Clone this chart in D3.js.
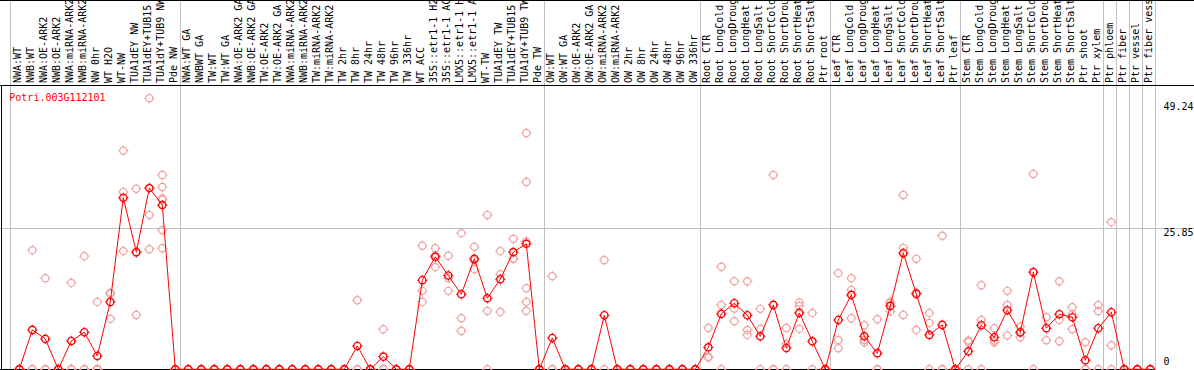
<!DOCTYPE html>
<html><head><meta charset="utf-8">
<script src="https://cdn.jsdelivr.net/npm/d3@7"></script>
<style>
body{margin:0;background:#fff}
svg{display:block}
text{font-family:"DejaVu Sans Mono",monospace;font-size:10px}
</style>
</head><body>
<svg id="c" width="1194" height="370"></svg>
<script>
const title = "Potri.003G112101";
const categories = [
 "NWA:WT","NWB:WT","NWA:OE-ARK2","NWB:OE-ARK2","NWA:miRNA-ARK2","NWB:miRNA-ARK2","NW 0hr","WT H2O","WT-NW","TUA1dEY NW","TUA1dEY+TUB15 NW","TUA1dY+TUB9 NW","Pde NW",
 "NWA:WT GA","NWBWT GA","TW:WT","TW:WT GA","NWA:OE-ARK2 GA","NWB:OE-ARK2 GA","TW:OE-ARK2","TW:OE-ARK2 GA","NWA:miRNA-ARK2","NWB:miRNA-ARK2","TW:miRNA-ARK2","TW:miRNA-ARK2","TW 2hr","TW 8hr","TW 24hr","TW 48hr","TW 96hr","TW 336hr","WT ACC","35S::etr1-1 H2O","35S::etr1-1 ACC","LMX5::etr1-1 H2O","LMX5::etr1-1 ACC","WT-TW","TUA1dEY TW","TUA1dEY+TUB15 TW","TUA1dY+TUB9 TW","Pde TW",
 "OW:WT","OW:WT GA","OW:OE-ARK2","OW:OE-ARK2 GA","OW:miRNA-ARK2","OW:miRNA-ARK2","OW 2hr","OW 8hr","OW 24hr","OW 48hr","OW 96hr","OW 336hr",
 "Root CTR","Root LongCold","Root LongDrought","Root LongHeat","Root LongSalt","Root ShortCold","Root ShortDrought","Root ShortHeat","Root ShortSalt","Ptr root",
 "Leaf CTR","Leaf LongCold","Leaf LongDrought","Leaf LongHeat","Leaf LongSalt","Leaf ShortCold","Leaf ShortDrought","Leaf ShortHeat","Leaf ShortSalt","Ptr leaf",
 "Stem CTR","Stem LongCold","Stem LongDrought","Stem LongHeat","Stem LongSalt","Stem ShortCold","Stem ShortDrought","Stem ShortHeat","Stem ShortSalt","Ptr shoot","Ptr xylem",
 "Ptr phloem","Ptr fiber","Ptr vessel","Ptr fiber vessel"
];
// index of the first category of each group, plus the end
const groupBreaks = [0,13,41,53,63,73,84,85,86,87,88];
const means = [
 0,7.16,5.52,0,5.15,6.73,2.43,12.25,31.17,21.29,32.93,29.84,0,
 0,0,0,0,0,0,0,0,0,0,0,0,0,4.24,0,2.3,0,0,16.19,20.44,17.04,13.64,20.07,12.92,16.37,21.29,22.8,0,
 5.7,0,0,0,9.82,0,0,0,0,0,0,0,
 4.0,10.07,12.0,9.82,6.0,11.7,3.88,10.25,5.09,0,
 8.97,13.52,6.0,2.91,11.52,21.1,13.7,6.25,8.07,0,
 3.27,8.0,5.82,10.73,6.73,17.65,7.46,10.0,9.46,1.64,7.46,
 10.37,0,0,0
];
const replicates = [
 [0,0,0],[21.65,0,0],[16.56,0,0],[0,0,0],[15.7,0,0],[20.56,0,0],[12.25,0,0,0,0],[13.89,9.16,13.7],[39.72,32.2,21.47],[32.8,9.88,21.2],[49.24,28.02,21.83],[35.3,33.11,31.05,30.8,25.29,22.0],[0,0,0],
 [0,0,0],[0,0,0],[0,0,0],[0,0,0],[0,0,0],[0,0,0],[0,0,0],[0,0,0],[0,0,0],[0,0,0],[0,0,0],[0,0,0],[0,0,0],[12.55,0,0],[0,0,0],[7.28,0,0],[0,0,0],[0,0,0],
 [22.44,14.25,12.25],[22.0,20.7,18.56],[20.62,16.56,14.25],[24.74,9.28,6.97],[22.26,19.8,18.19],[28.02,10.61,0],[21.47,17.28,10.43],[23.71,20.1,20.07],[42.94,34.02,23.23,14.74,12.25,10.61],[0,0,0],
 [16.92,0,0],[0,0,0],[0,0,0],[0,0,0],[19.83,0],[0,0,0],[0,0,0],[0,0,0],[0,0,0],[0,0,0],[0,0,0],[0,0,0],
 [7.52,2.3,2.12],[18.62,11.7,0],[16.0,11.04,8.73],[16.0,7.16,6.25],[10.98,7.34,0],[35.3,0,0],[7.52,4.61,0],[12.13,11.52,7.34],[10.25,0],[0,0,0],
 [17.47,5.34,3.82],[16.56,14.43,9.28],[8.0,5.34,4.91],[9.1,0,0],[12.25,12.0,10.49],[31.66,22.07,9.88],[20.07,13.9,7.16],[10.25,8.43,0],[24.26,0,0],[0,0,0],
 [5.22,4.97,0],[15.28,8.97,0],[7.46,5.22,4.91],[14.25,11.7,6.12],[7.76,6.6,5.82],[35.48,0],[9.46,5.28],[16.0,8.97,5.09],[11.28,10.0,7.28],[4.91,0,0],[11.7,10.55,0],
 [26.74,4.37,0],[0,0,0],[0,0,0],[0,0,0]
];
const yTicks = [0, 25.85, 49.24];
const yMax = 49.24;

const W = 1194, H = 370;
const svg = d3.select("#c");
const x = d3.scaleLinear().domain([0, categories.length]).range([11.3, 1155.3]);
const cx = i => x(i) + 8;
const y = d3.scaleLinear().domain([0, yMax]).range([369.3, 98.3]);
const headerY = 85;

// vertical grey group separators
svg.append("g").selectAll("line").data(groupBreaks).join("line")
  .attr("x1", (d,i) => i === 0 ? x(d) - 1 : x(d)).attr("x2", (d,i) => i === 0 ? x(d) - 1 : x(d))
  .attr("y1", 0).attr("y2", H)
  .attr("stroke", "#c0c0c0").attr("stroke-width", 1).attr("shape-rendering","crispEdges");

// horizontal grey grid line at middle tick
svg.append("g").selectAll("line").data(yTicks.filter(t => t > 0 && t < yMax)).join("line")
  .attr("x1", 0).attr("x2", W).attr("y1", d => y(d) + 1).attr("y2", d => y(d) + 1)
  .attr("stroke", "#c0c0c0").attr("shape-rendering","crispEdges");

// frame lines
const frame = svg.append("g").attr("stroke", "#000").attr("shape-rendering","crispEdges");
frame.append("line").attr("x1",0).attr("x2",W).attr("y1",0.5).attr("y2",0.5);
frame.append("line").attr("x1",0).attr("x2",W).attr("y1",headerY).attr("y2",headerY);
frame.append("line").attr("x1",1.5).attr("x2",1.5).attr("y1",headerY).attr("y2",H);
frame.append("line").attr("x1",0).attr("x2",x(categories.length)).attr("y1",y(0)).attr("y2",y(0));

// category labels (rotated)
svg.append("g").selectAll("text").data(categories).join("text")
  .attr("transform", (d,i) => `translate(${cx(i) + 2},${headerY - 2}) rotate(-90)`)
  .attr("fill", "#000").text(d => d);

// marker: ring with four small ticks
function marker(g, color, sw) {
  g.append("circle").attr("r", 3.6).attr("fill", "none").attr("stroke", color).attr("stroke-width", sw);
  g.append("path").attr("d", "M0,-5.2V-3.6M0,3.6V5.2M-5.2,0H-3.6M3.6,0H5.2")
    .attr("stroke", color).attr("stroke-width", 1);
}

// replicate points
const repPts = [];
replicates.forEach((arr, i) => arr.forEach(v => repPts.push({i, v})));
svg.append("g").selectAll("g").data(repPts).join("g")
  .attr("transform", d => `translate(${cx(d.i)},${y(d.v)})`)
  .each(function(){ marker(d3.select(this), "#f0a0a0", 1.2); });

// mean line
svg.append("path").datum(means)
  .attr("d", d3.line().x((d,i) => cx(i)).y(d => y(d)))
  .attr("fill", "none").attr("stroke", "#ff0000").attr("stroke-width", 1);

// mean points
svg.append("g").selectAll("g").data(means).join("g")
  .attr("transform", (d,i) => `translate(${cx(i)},${y(d)})`)
  .each(function(){ marker(d3.select(this), "#ff0000", 1.4); });

// title
svg.append("text").attr("x", 9.3).attr("y", 101).attr("fill", "#ff0000").text(title);

// y tick labels on the right
svg.append("g").selectAll("text").data(yTicks).join("text")
  .attr("x", 1163.5)
  .attr("y", d => d === 0 ? y(d) - 4.5 : (d === yMax ? y(d) + 11.5 : y(d) + 9))
  .attr("fill", "#000").text(d => d === 0 ? "0" : d.toFixed(2));
</script>
</body></html>
